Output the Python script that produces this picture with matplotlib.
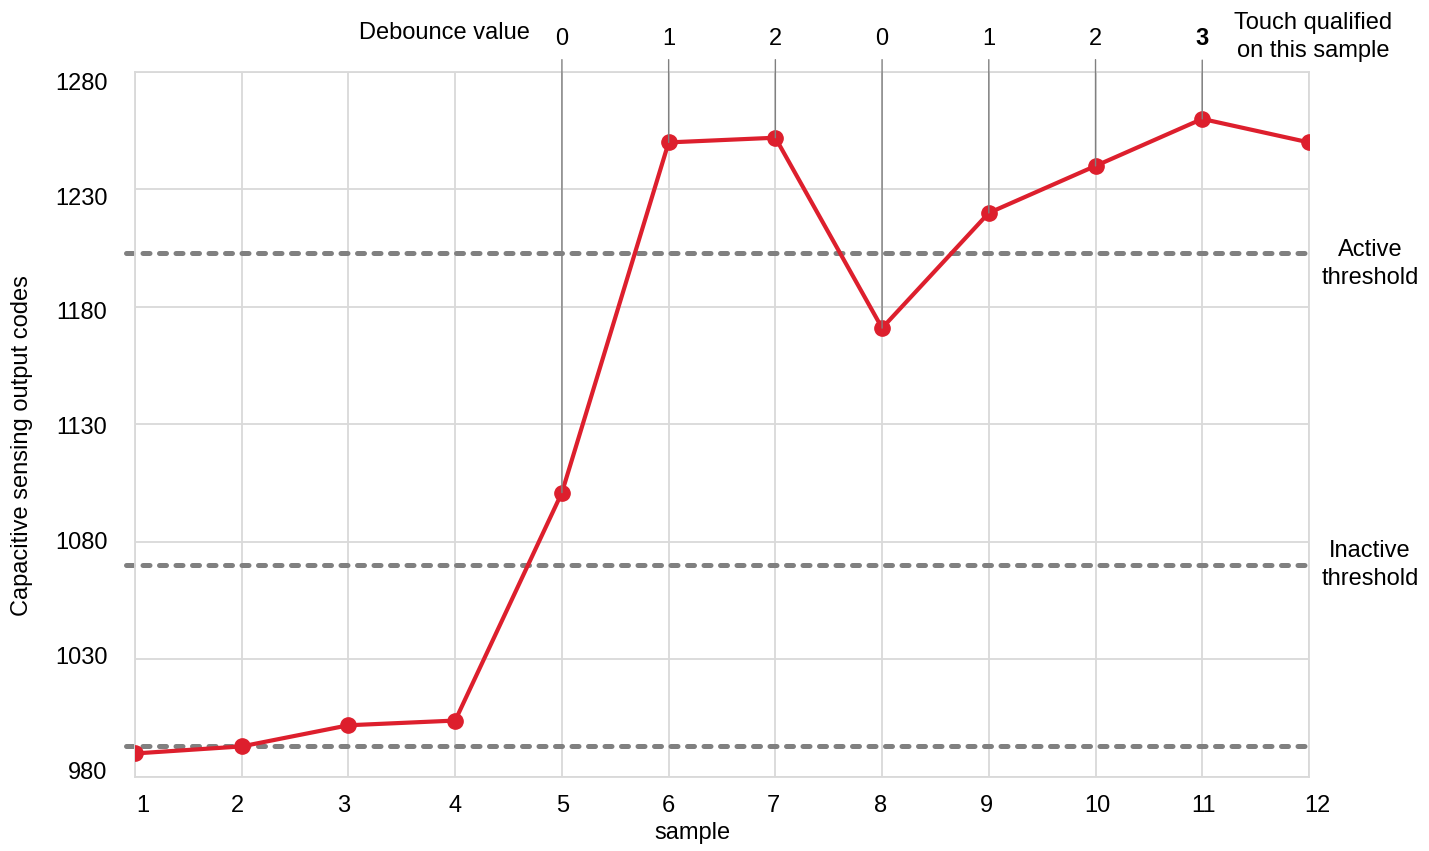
"""Capacitive touch debounce chart: raw sensor codes vs. sample index."""

import matplotlib
matplotlib.use("Agg")
import matplotlib.pyplot as plt
from matplotlib.transforms import ScaledTranslation

# data
samples = [1, 2, 3, 4, 5, 6, 7, 8, 9, 10, 11, 12]
codes = [990, 993, 1002, 1004, 1101, 1250, 1252, 1171, 1220, 1240, 1260, 1250]

# debounce counter shown above samples 5..11
debounce_samples = [5, 6, 7, 8, 9, 10, 11]
debounce_values = ["0", "1", "2", "0", "1", "2", "3"]

active_threshold = 1203
inactive_threshold = 1070
baseline = 993

y_ticks = [980, 1030, 1080, 1130, 1180, 1230, 1280]

RED = "#dd1f2d"
GRID = "#d9d9d9"
DOT = "#808080"

# the source chart nudges its tick labels a little off the gridlines (pixels)
Y_LABEL_SHIFT = [-6.6, -4, -1.4, 1.2, 3.8, 7.4, 10]
X_LABEL_SHIFT = [8, -4, -5, 0, 1, 0, -2, -2, -2, 2, 1, 8]

plt.rcParams["font.family"] = ["Liberation Sans", "DejaVu Sans"]

fig = plt.figure(figsize=(14.29, 8.51), dpi=100)
ax = fig.add_axes([0.0945, 0.087, 0.8215, 0.8285])

ax.set_xlim(1, 12)
ax.set_ylim(980, 1280)
ax.set_xticks(samples)
ax.set_yticks(y_ticks)
ax.tick_params(length=0, labelsize=17, colors="black")
ax.tick_params(axis="x", pad=13)
ax.tick_params(axis="y", pad=20)
ax.grid(True, color=GRID, linewidth=1.3)
ax.set_axisbelow(True)
for side in ax.spines.values():
    side.set_color(GRID)
    side.set_linewidth(1.3)

for lab, dy in zip(ax.get_yticklabels(), Y_LABEL_SHIFT):
    lab.set_transform(lab.get_transform()
                      + ScaledTranslation(0, -dy / 100, fig.dpi_scale_trans))
for lab, dx in zip(ax.get_xticklabels(), X_LABEL_SHIFT):
    lab.set_transform(lab.get_transform()
                      + ScaledTranslation(dx / 100, 0, fig.dpi_scale_trans))

# threshold / baseline dotted lines (they poke a bit past the left axis)
for level in (active_threshold, inactive_threshold, baseline):
    ax.axhline(level, xmin=-0.008, xmax=1.002, color=DOT, linewidth=3.6,
               linestyle=(0, (1.4, 1.9)), dash_capstyle="round", clip_on=False,
               zorder=2)

ax.plot(samples, codes, color=RED, linewidth=3, marker="o", markersize=11,
        zorder=3)

# debounce counter callouts
for s, label in zip(debounce_samples, debounce_values):
    ax.annotate(label, xy=(s, codes[s - 1]), xycoords="data",
                xytext=(s, 1.0468), textcoords=("data", "axes fraction"),
                ha="center", va="center", fontsize=17,
                fontweight="bold" if label == "3" else "normal",
                arrowprops=dict(arrowstyle="-", color=DOT, lw=1,
                                shrinkA=5, shrinkB=0), annotation_clip=False)

fig.text(0.371, 0.961, "Debounce value", ha="right", va="center", fontsize=17)
fig.text(0.919, 0.9565, "Touch qualified\non this sample", ha="center",
         va="center", fontsize=17, linespacing=1.35)
fig.text(0.9587, 0.6897, "Active\nthreshold", ha="center", va="center",
         fontsize=17, linespacing=1.35)
fig.text(0.9587, 0.3362, "Inactive\nthreshold", ha="center", va="center",
         fontsize=17, linespacing=1.35)

fig.text(0.0154, 0.476, "Capacitive sensing output codes", rotation=90,
         ha="center", va="center", fontsize=17)
fig.text(0.4843, 0.021, "sample", ha="center", va="center", fontsize=17)

fig.savefig("out.png", dpi=100)
